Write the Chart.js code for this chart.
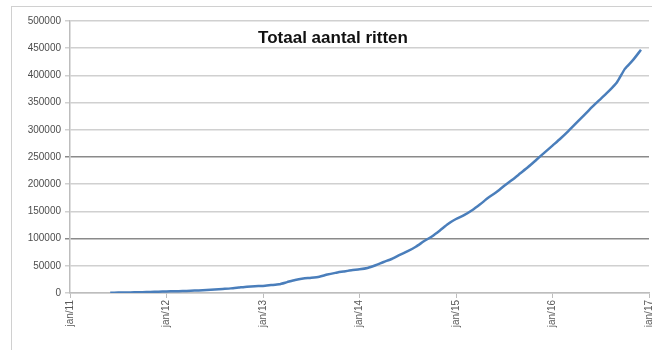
<!DOCTYPE html>
<html>
<head>
<meta charset="utf-8">
<script src="https://cdn.jsdelivr.net/npm/chart.js@4/dist/chart.umd.min.js"></script>
<style>
  body { margin: 0; background: #fff; }
  #wrap { position: relative; width: 652px; height: 350px; }
  #frame { position: absolute; left: 11px; top: 6px; right: 0; bottom: 0;
           border-left: 1.5px solid #d0d0d0; border-top: 1.5px solid #d0d0d0; }
  canvas { position: absolute; left: 0; top: 0; }
</style>
</head>
<body>
<div id="wrap">
  <div id="frame"></div>
  <canvas id="chart" width="652" height="350"></canvas>
</div>
<script>
// months counted from jan/11 (0) up to jan/17 (72)
const months = [];
for (let m = 5; m <= 71; m++) months.push(m);

const ritten = [
  500, 800, 1000, 1300, 1600, 2000, 2400,            // jun..dec 2011
  2800, 3200, 3600, 4200, 4800, 5500, 6500, 7500, 8500, 10000, 11500, 12500,   // 2012
  13000, 14500, 16000, 20000, 24000, 26500, 28000, 30000, 34000, 37000, 39500, 42000, // 2013
  43500, 46000, 51000, 57000, 62500, 70000, 77000, 85000, 95000, 104000, 115000, 127000, // 2014
  136000, 143000, 152000, 163000, 175000, 185000, 197000, 208000, 220000, 232000, 245000, 258000, // 2015
  271000, 284000, 298000, 313000, 328000, 343000, 357000, 371000, 387000, 412000, 428000, 447000  // 2016
];

const xTickLabels = ['jan/11', 'jan/12', 'jan/13', 'jan/14', 'jan/15', 'jan/16', 'jan/17'];
const chartTitle = 'Totaal aantal ritten';

// grid lines that look darker in the original
const darkGrid = [100000, 250000];

const titlePlugin = {
  id: 'innerTitle',
  afterDraw(chart) {
    const ctx = chart.ctx;
    ctx.save();
    ctx.font = 'bold 17px "Liberation Sans", Arial, sans-serif';
    ctx.fillStyle = '#111';
    ctx.textAlign = 'center';
    ctx.textBaseline = 'middle';
    ctx.fillText(chartTitle, 333, 38);
    ctx.restore();
  }
};

new Chart(document.getElementById('chart'), {
  type: 'line',
  data: {
    datasets: [{
      data: months.map((m, i) => ({ x: m, y: ritten[i] })),
      borderColor: '#4a7ebb',
      borderWidth: 2.5,
      pointRadius: 0,
      tension: 0.2,
      fill: false
    }]
  },
  options: {
    responsive: false,
    animation: false,
    layout: { padding: { left: 0, right: 3, top: 21, bottom: 0 } },
    plugins: { legend: { display: false }, tooltip: { enabled: false }, title: { display: false } },
    scales: {
      x: {
        type: 'linear',
        min: 0,
        max: 72,
        afterBuildTicks(axis) {
          axis.ticks = xTickLabels.map((_, i) => ({ value: i * 12 }));
        },
        afterFit(axis) {
          axis.height = 57;
          axis.paddingLeft = 0;
          axis.paddingRight = 0;
        },
        ticks: {
          minRotation: 90,
          maxRotation: 90,
          color: '#595959',
          font: { size: 10, family: '"Liberation Sans", Arial, sans-serif' },
          padding: 2,
          callback: (v) => xTickLabels[v / 12]
        },
        grid: { display: true, drawOnChartArea: false, drawTicks: true, tickLength: 5, color: '#bdbdbd' },
        border: { color: '#bdbdbd', width: 1.5 }
      },
      y: {
        min: 0,
        max: 500000,
        afterFit(axis) {
          axis.width = 70;
          axis.paddingTop = 0;
          axis.paddingBottom = 0;
        },
        ticks: {
          stepSize: 50000,
          color: '#4d4d4d',
          padding: 4,
          font: { size: 10, family: '"Liberation Sans", Arial, sans-serif' },
          callback: (v) => String(v)
        },
        grid: {
          color: (c) => darkGrid.includes(c.tick && c.tick.value) ? '#8a8a8a' : '#d0d0d0',
          lineWidth: 1.5,
          tickLength: 5
        },
        border: { color: '#bdbdbd', width: 1.5 }
      }
    }
  },
  plugins: [titlePlugin]
});
</script>
</body>
</html>
